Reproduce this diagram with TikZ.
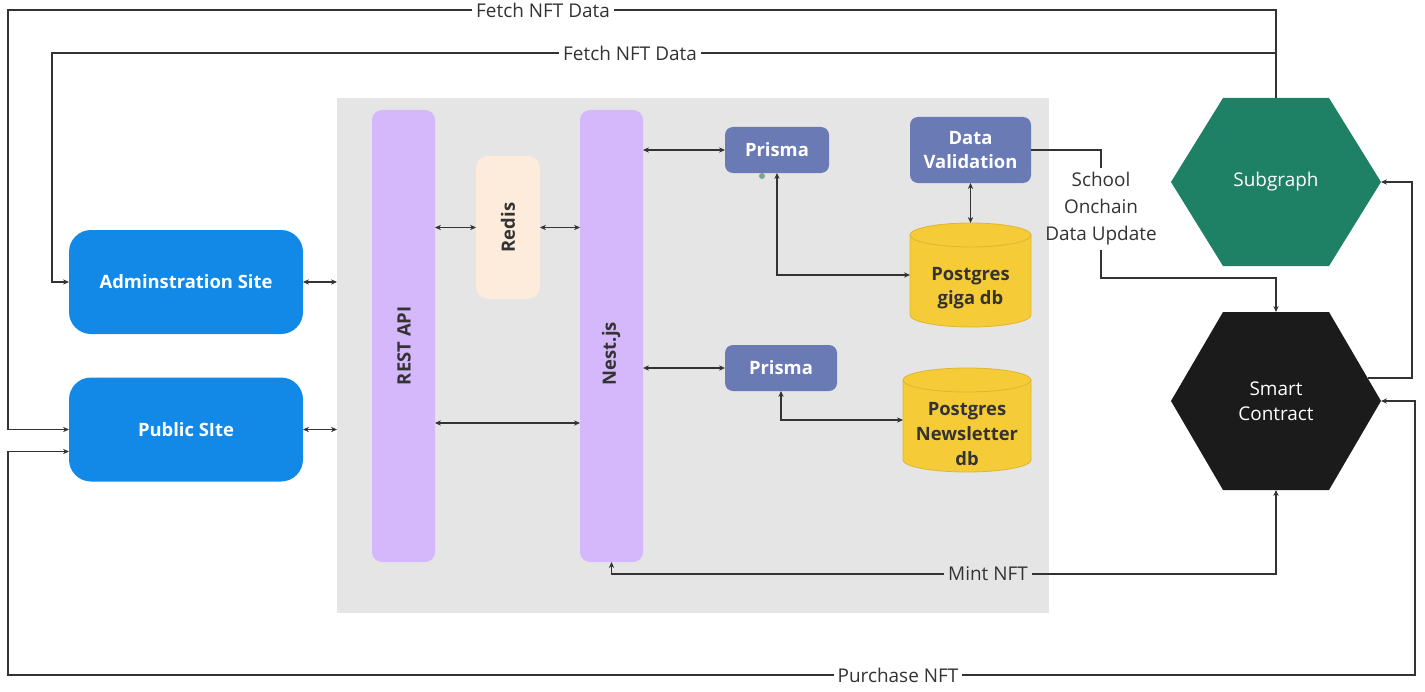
\documentclass[tikz,border=0pt]{standalone}
\usepackage{fontspec}
\setmainfont{Open Sans}
\usetikzlibrary{arrows.meta,calc}
\newdimen\pxu \pxu=0.75pt
\definecolor{bgc}{HTML}{E5E5E5}
\definecolor{lilac}{HTML}{D5B8FB}
\definecolor{peach}{HTML}{FDECDB}
\definecolor{prismac}{HTML}{6A7AB4}
\definecolor{siteb}{HTML}{1289E6}
\definecolor{subg}{HTML}{1E8064}
\definecolor{scblack}{HTML}{1B1B1B}
\definecolor{yel}{HTML}{F5CC38}
\definecolor{yelb}{HTML}{DDB533}
\definecolor{ink}{HTML}{333333}
\definecolor{dotc}{HTML}{7CA58F}
\newcommand\fsz{\fontsize{13.8pt}{18.5pt}\selectfont}
\newcommand\fszr{\fontsize{14.2pt}{18.5pt}\selectfont}
\newcommand\drawcyl[2]{%
  \path[fill=yel, draw=yelb, line width=0.6pt]
    ($(#1.north west)+(0,12)$) -- ($(#1.south west)+(0,-12)$)
    arc[start angle=180, end angle=360, x radius=#2, y radius=9pt]
    -- ($(#1.north east)+(0,12)$)
    arc[start angle=0, end angle=180, x radius=#2, y radius=9pt] -- cycle;
  \draw[yelb, line width=0.6pt] ($(#1.north west)+(0,12)$)
    arc[start angle=180, end angle=360, x radius=#2, y radius=9pt];
}
\newcommand\drawhex[2]{%
  \fill[#2] (#1.west) -- ($(#1.north west)+(52,0)$) -- ($(#1.north east)+(-52,0)$)
    -- (#1.east) -- ($(#1.south east)+(-52,0)$) -- ($(#1.south west)+(52,0)$) -- cycle;
}
\begin{document}
\begin{tikzpicture}[x=0.75pt,y=-0.75pt,
  every node/.style={font=\fsz, inner sep=0pt, outer sep=0pt},
  bar/.style={rectangle, fill=lilac, rounded corners=10\pxu, minimum width=63\pxu, minimum height=452\pxu},
  redisbox/.style={rectangle, fill=peach, rounded corners=12\pxu, minimum width=64\pxu, minimum height=143\pxu},
  prismabox/.style={rectangle, fill=prismac, rounded corners=8\pxu, text=white, font=\bfseries\fsz, align=center, minimum height=46\pxu},
  site/.style={rectangle, fill=siteb, rounded corners=22\pxu, text=white, font=\bfseries\fsz, minimum width=234\pxu, minimum height=104\pxu},
  holder/.style={rectangle},
  rottext/.style={rotate=90, text=ink, font=\bfseries\fsz},
  dbtext/.style={text=ink, font=\bfseries\fsz, align=center},
  hextext/.style={text=white, align=center, font=\fszr},
  conn/.style={draw=ink, line width=1pt},
  lbl/.style={fill=white, text=ink, font=\fszr, inner xsep=4\pxu, inner ysep=2pt},
  >={Stealth[length=4.5pt,width=4pt]}
]
\useasboundingbox (0,0) rectangle (1425,692);
% background panel
\node[fill=bgc, minimum width=712\pxu, minimum height=515\pxu, anchor=north west] (bg) at (337,98) {};
% bars
\node[bar] (rest) at (403.5,336) {};
\node[bar] (nest) at (611.5,336) {};
\node[redisbox] (redis) at (508,227.5) {};
\node[rottext, anchor=west] (restlbl) at (404,385) {REST API};
\node[rottext, anchor=west] (nestlbl) at (611,385) {Nest.js};
\node[rottext] (redislbl) at (508,227.5) {Redis};
% prisma / validation
\node[prismabox, minimum width=104\pxu] (prisma1) at (777,150) {Prisma};
\node[prismabox, minimum width=121\pxu, minimum height=66\pxu] (dv) at (970.5,150) {Data\\Validation};
\node[prismabox, minimum width=112\pxu] (prisma2) at (781,368) {Prisma};
\node[circle, fill=dotc, minimum size=6\pxu] (dot) at (762,176) {};
% databases
\node[holder, minimum width=121\pxu, minimum height=104\pxu] (pg1) at (970.5,275) {};
\node[holder, minimum width=128\pxu, minimum height=104\pxu] (pg2) at (967,420) {};
\drawcyl{pg1}{60.5\pxu}
\drawcyl{pg2}{64\pxu}
\node[dbtext] (pg1t) at (970.5,288) {Postgres\\giga db};
\node[dbtext] (pg2t) at (967,434) {Postgres\\Newsletter\\db};
% sites
\node[site] (adm) at (186,282) {Adminstration Site};
\node[site] (pub) at (186,429.5) {Public SIte};
% hexagons
\node[holder, minimum width=210\pxu, minimum height=168\pxu] (sub) at (1276,182) {};
\node[holder, minimum width=210\pxu, minimum height=178\pxu] (sc) at (1276,401) {};
\drawhex{sub}{subg}
\drawhex{sc}{scblack}
\node[hextext] (subt) at (sub) {Subgraph};
\node[hextext] (sct) at (sc) {Smart\\Contract};
\coordinate (scedge) at ($($(sc.north east)+(-52,0)$)!0.742!(sc.east)$);
% short connectors
\draw[conn,<->] (adm.east) -- (adm.east -| bg.west);
\draw[conn,<->] (pub.east) -- (pub.east -| bg.west);
\draw[conn,<->] (redis.west -| rest.east) -- (redis.west);
\draw[conn,<->] (redis.east) -- (redis.east -| nest.west);
\draw[conn,<->] (rest.east |- 0,423) -- (nest.west |- 0,423);
\draw[conn,<->] (prisma1.west -| nest.east) -- (prisma1.west);
\draw[conn,<->] (prisma2.west -| nest.east) -- (prisma2.west);
\draw[conn,<->] (prisma1.south) |- (pg1.west);
\draw[conn,<->] (prisma2.south) |- (pg2.west);
\draw[conn,<->] (dv.south) -- (pg1.north);
% long connectors
\draw[conn,->] (sub.north) |- (8,10) |- (pub.west);
\draw[conn,->] (sub.north) |- (52,53) |- (adm.west);
\draw[conn,<->] ($(pub.west)+(0,22)$) -| (8,675) -| (1415,401) -- (sc.east);
\draw[conn,<->] (sc.south) |- (nest.south |- 0,574) -- (nest.south);
\draw[conn,->] (scedge) -| (1412,182) -- (sub.east);
% labels
\node[lbl] (l1) at (543,10) {Fetch NFT Data};
\node[lbl] (l2) at (630,53) {Fetch NFT Data};
\node[lbl, fill=bgc] (l3) at (988,574) {Mint NFT};
\node[lbl] (l4) at (898,675) {Purchase NFT};
\node[lbl, fill=none, align=center, font=\fontsize{14.2pt}{20.2pt}\selectfont, inner ysep=5\pxu] (l5) at (1101,209) {School\\Onchain\\Data Update};
\draw[conn] (dv.east) -| (l5.north);
\draw[conn,->] (l5.south) |- (1276,278) -- (sc.north);
\end{tikzpicture}
\end{document}
